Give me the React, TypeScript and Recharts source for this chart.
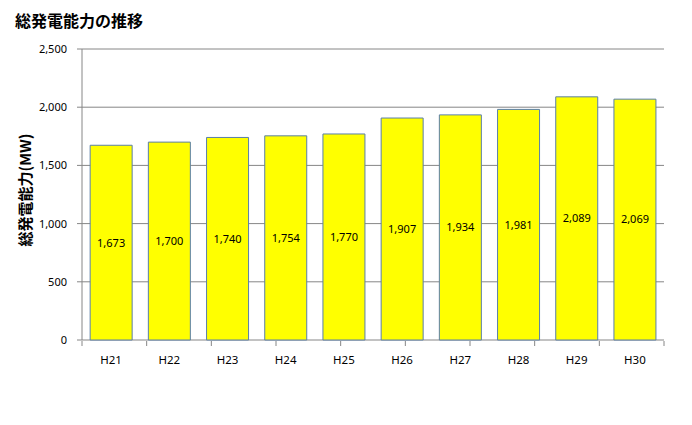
import React from 'react';
import { BarChart, Bar, XAxis, YAxis, CartesianGrid, LabelList } from 'recharts';

const years = ['H21', 'H22', 'H23', 'H24', 'H25', 'H26', 'H27', 'H28', 'H29', 'H30'];
const capacity = [1673, 1700, 1740, 1754, 1770, 1907, 1934, 1981, 2089, 2069];
const yTicks = [0, 500, 1000, 1500, 2000, 2500];
const boundaryTicks = [0, 1, 2, 3, 4, 5, 6, 7, 8, 9, 10];

const data = years.map((name, i) => ({ name, value: capacity[i] }));

const FONT = '"Noto Sans", "Noto Sans CJK JP", sans-serif';
const fmt = (v: number) => v.toLocaleString('en-US');

export default function App() {
  return (
    <div style={{ position: 'fixed', left: 0, top: 0, width: 692, height: 425, background: '#fff', fontFamily: FONT }}>
      <div style={{ position: 'absolute', left: 15, top: 8, fontSize: 16, fontWeight: 'bold', color: '#000', fontFamily: '"Noto Sans CJK JP", sans-serif' }}>
        総発電能力の推移
      </div>
      <BarChart
        width={692}
        height={425}
        data={data}
        margin={{ top: 49, right: 28, bottom: 0, left: 30 }}
        barCategoryGap="14%"
      >
        <CartesianGrid vertical={false} stroke="#868686" strokeWidth={1} />
        {/* category labels; the axis with boundary tick marks sits right under it */}
        <XAxis
          dataKey="name"
          tickLine={false}
          axisLine={false}
          height={1}
          tick={{ fill: '#000', fontSize: 11.5, fontFamily: FONT }}
          tickMargin={10}
        />
        <XAxis
          xAxisId="edge"
          type="number"
          domain={[0, 10]}
          ticks={boundaryTicks}
          tick={() => null}
          tickSize={5}
          stroke="#868686"
          axisLine={false}
          height={84}
          allowDataOverflow
        />
        <YAxis
          width={52}
          domain={[0, 2500]}
          ticks={yTicks}
          tickFormatter={fmt}
          tickSize={5}
          tickMargin={10}
          stroke="#868686"
          tick={{ fill: '#000', fontSize: 11, fontFamily: FONT }}
          label={{
            value: '総発電能力(MW)',
            angle: -90,
            position: 'insideLeft',
            dx: -9,
            dy: 52,
            style: { fontSize: 15, fontWeight: 'bold', fill: '#000', fontFamily: '"Noto Sans CJK JP", sans-serif' },
          }}
        />
        <Bar dataKey="value" fill="#FFFF00" stroke="#5A7FA8" strokeWidth={1} isAnimationActive={false}>
          <LabelList dataKey="value" position="center" formatter={(v: any) => fmt(Number(v))} style={{ fill: '#000', fontSize: 11, fontFamily: FONT }} />
        </Bar>
      </BarChart>
    </div>
  );
}
